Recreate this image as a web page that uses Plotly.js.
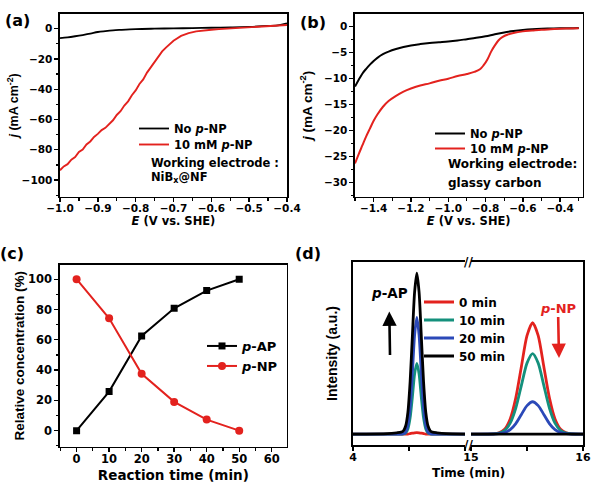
<!DOCTYPE html>
<html>
<head>
<meta charset="utf-8">
<script src="https://cdn.plot.ly/plotly-3.0.1.min.js"></script>
<style>html,body{margin:0;padding:0;background:#fff;}#chart{width:592px;height:483px;}</style>
</head>
<body>
<div id="chart"></div>
<script>
// ---------- Panel (a): LSV on NiBx@NF ----------
const aE_noNP = [-1.00,-0.98,-0.96,-0.94,-0.92,-0.90,-0.88,-0.86,-0.84,-0.80,-0.75,-0.70,-0.65,-0.60,-0.55,-0.50,-0.45,-0.42,-0.40];
const aJ_noNP = [-6.2,-5.7,-5.0,-4.2,-3.3,-2.2,-1.6,-1.1,-0.8,-0.3,0.0,0.2,0.4,0.6,0.8,1.2,1.8,2.4,3.5];
const aE_NP = [-1.00,-0.99,-0.98,-0.97,-0.96,-0.95,-0.94,-0.93,-0.92,-0.91,-0.90,-0.89,-0.88,-0.87,-0.86,-0.85,-0.84,-0.83,-0.82,-0.81,-0.80,-0.79,-0.78,-0.77,-0.76,-0.75,-0.74,-0.73,-0.72,-0.71,-0.70,-0.68,-0.66,-0.64,-0.62,-0.60,-0.58,-0.56,-0.54,-0.52,-0.50,-0.48,-0.46,-0.44,-0.42,-0.40];
const aJ_NP = [-93.5,-91.0,-89.5,-86.5,-84.8,-81.5,-79.8,-76.5,-74.5,-71.5,-69.5,-67.0,-65.5,-62.8,-60.5,-57.0,-54.5,-50.8,-48.0,-44.0,-40.8,-36.5,-33.5,-29.0,-25.5,-21.5,-18.5,-15.0,-12.5,-10.0,-8.0,-4.8,-2.9,-1.8,-1.1,-0.7,-0.3,0.0,0.3,0.5,0.7,1.0,1.3,1.6,2.0,2.4];

// ---------- Panel (b): LSV on glassy carbon ----------
const bE_noNP = [-1.50,-1.48,-1.46,-1.44,-1.42,-1.40,-1.38,-1.35,-1.32,-1.28,-1.24,-1.20,-1.15,-1.10,-1.05,-1.00,-0.95,-0.90,-0.85,-0.80,-0.75,-0.70,-0.65,-0.60,-0.55,-0.50,-0.45,-0.40,-0.35,-0.30];
const bJ_noNP = [-11.5,-10.2,-9.0,-8.1,-7.3,-6.6,-6.0,-5.3,-4.8,-4.3,-3.9,-3.6,-3.35,-3.15,-3.0,-2.85,-2.65,-2.4,-2.15,-1.85,-1.45,-1.1,-0.85,-0.65,-0.5,-0.4,-0.35,-0.3,-0.3,-0.25];
const bE_NP = [-1.50,-1.48,-1.46,-1.44,-1.42,-1.40,-1.38,-1.35,-1.32,-1.28,-1.24,-1.20,-1.15,-1.10,-1.05,-1.00,-0.95,-0.90,-0.86,-0.83,-0.81,-0.79,-0.77,-0.75,-0.73,-0.71,-0.68,-0.65,-0.60,-0.55,-0.50,-0.45,-0.40,-0.35,-0.30];
const bJ_NP = [-26.3,-24.5,-22.8,-21.1,-19.6,-18.1,-16.9,-15.4,-14.3,-13.3,-12.5,-11.9,-11.3,-10.9,-10.4,-10.0,-9.5,-9.1,-8.7,-8.2,-7.4,-6.3,-4.8,-3.6,-2.6,-2.0,-1.5,-1.2,-0.9,-0.75,-0.6,-0.5,-0.4,-0.35,-0.3];

// ---------- Panel (c): relative concentration ----------
const cTime = [0,10,20,30,40,50];
const cAP = [0,25.8,62.5,80.8,92.5,100];
const cNP = [100,74.2,37.5,19.0,7.3,0];

// ---------- Panel (d): chromatograms ----------
const dLabels = ['0 min','10 min','20 min','50 min'];
const dAP_t = [4.00,4.31,4.39,4.43,4.45,4.47,4.49,4.51,4.53,4.55,4.57,4.59,4.61,4.63,4.65,4.67,4.69,4.71,4.75,4.83,5.00];
const dAP_0  = [0,0,0,0,0,0,0,0.3,0.6,0.8,0.9,0.8,0.6,0.3,0,0,0,0,0,0,0];
const dAP_10 = [0,0,0,0,0.1,0.7,3.2,10.1,22.9,37.4,44,37.4,22.9,10.1,3.2,0.7,0.1,0,0,0,0];
const dAP_20 = [0,0,0,0,0.2,1.2,5.3,16.7,37.8,61.6,72.6,61.6,37.8,16.7,5.3,1.2,0.2,0,0,0,0];
const dAP_50 = [0,0.3,0.8,1.2,2.0,5.0,13.5,32.5,60.7,88.2,100,88.2,60.7,32.5,13.5,5.0,2.0,1.2,0.8,0.3,0];
const dNP_t = [15.00,15.20,15.25,15.30,15.35,15.40,15.45,15.50,15.55,15.60,15.65,15.70,15.75,15.80,15.85,15.90,16.00];
const dNP_0  = [0,0.15,0.77,3.0,9.4,22.5,42.0,61.2,69.3,61.2,42.0,22.5,9.4,3.0,0.77,0.15,0];
const dNP_10 = [0,0.11,0.56,2.2,6.8,16.2,30.3,44.1,50,44.1,30.3,16.2,6.8,2.2,0.56,0.11,0];
const dNP_20 = [0,0.04,0.22,0.88,2.7,6.5,12.2,17.7,20.1,17.7,12.2,6.5,2.7,0.88,0.22,0.04,0];
const dNP_50 = [0,0,0,0,0,0,0,0,0,0,0,0,0,0,0,0,0];

// ---------- styling ----------
const RED = '#e3221e', BLACK = '#000000', TEAL = '#14907c', BLUE = '#2b49b8';
const HF = 'DejaVu Sans, Arial, sans-serif';
const VF = 'Liberation Sans, Arial, sans-serif';
const px = v => v/592, py = v => 1 - v/483;

const traces = [
  {x:aE_noNP, y:aJ_noNP, xaxis:'x', yaxis:'y', mode:'lines', name:'No <i>p</i>-NP', line:{color:BLACK,width:1.8,shape:'spline'}, legend:'legend'},
  {x:aE_NP, y:aJ_NP, xaxis:'x', yaxis:'y', mode:'lines', name:'10 mM <i>p</i>-NP', line:{color:RED,width:1.9}, legend:'legend5'},
  {x:bE_noNP, y:bJ_noNP, xaxis:'x2', yaxis:'y2', mode:'lines', name:'No <i>p</i>-NP', line:{color:BLACK,width:2,shape:'spline'}, legend:'legend2'},
  {x:bE_NP, y:bJ_NP, xaxis:'x2', yaxis:'y2', mode:'lines', name:'10 mM <i>p</i>-NP', line:{color:RED,width:2,shape:'spline'}, legend:'legend6'},
  {x:cTime, y:cAP, xaxis:'x3', yaxis:'y3', mode:'lines+markers', name:'<i>p</i>-AP', line:{color:BLACK,width:2}, marker:{symbol:'square',size:7,color:BLACK}, legend:'legend3'},
  {x:cTime, y:cNP, xaxis:'x3', yaxis:'y3', mode:'lines+markers', name:'<i>p</i>-NP', line:{color:RED,width:2}, marker:{symbol:'circle',size:8,color:RED}, legend:'legend7'}
];
const dColors = [RED, TEAL, BLUE, BLACK];
const dAP = [dAP_0, dAP_10, dAP_20, dAP_50];
const dNP = [dNP_0, dNP_10, dNP_20, dNP_50];
const dLeg = ['legend4','legend8','legend9','legend10'];
for (let i = 0; i < 4; i++) {
  traces.push({x:dAP_t, y:dAP[i], xaxis:'x4', yaxis:'y4', mode:'lines', name:dLabels[i], legendgroup:'g'+i,
    line:{color:dColors[i], width:2.8, shape:'spline', smoothing:0.7}, legend:dLeg[i]});
}
for (let i = 0; i < 4; i++) {
  traces.push({x:dNP_t, y:dNP[i], xaxis:'x5', yaxis:'y5', mode:'lines', name:dLabels[i], legendgroup:'g'+i, showlegend:false,
    line:{color:dColors[i], width:2.8, shape:'spline', smoothing:0.7}, legend:dLeg[i]});
}

const axBase = {showline:true, linecolor:'#000', linewidth:1.6, mirror:true, ticks:'outside', ticklen:4, tickwidth:1.4, tickcolor:'#000',
  showgrid:false, zeroline:false, automargin:false, fixedrange:true};
function fnt(size, fam){ return {family:fam||HF, size:size, color:'#000', weight:'bold'}; }
function minorT(d, t0){ const m = {dtick:d, ticks:'outside', ticklen:2.5, tickwidth:1.2, tickcolor:'#000', showgrid:false}; if (t0 !== undefined) m.tick0 = t0; return m; }

const legBase = {bgcolor:'rgba(0,0,0,0)', borderwidth:0, xanchor:'left', yanchor:'top', tracegroupgap:0, itemclick:false};
function leg(x, yTop, size){ return Object.assign({}, legBase, {x:px(x), y:py(yTop), font:fnt(size)}); }
function ann(x, y, text, size, extra){ return Object.assign({xref:'paper', yref:'paper', x:px(x), y:py(y), text:text, showarrow:false,
  xanchor:'center', yanchor:'middle', font:fnt(size)}, extra||{}); }

const layout = {
  width:592, height:483, margin:{l:0,r:0,t:0,b:0}, paper_bgcolor:'#fff', plot_bgcolor:'#fff',
  font:{family:HF, size:11, color:'#000', weight:'bold'},
  showlegend:true,
  xaxis: Object.assign({}, axBase, {domain:[px(60),px(287)], range:[-1.0,-0.4], dtick:0.1, tickformat:'.1f',
    minor:minorT(0.05), tickfont:fnt(10.5), ticklabelstandoff:-3,
    title:{text:'<i>E</i> (V vs. SHE)', font:fnt(11.5), standoff:0}, anchor:'y'}),
  yaxis: Object.assign({}, axBase, {domain:[py(196.7),py(14)], range:[-111,9.7], dtick:20,
    minor:minorT(10), tickfont:fnt(10.5),
    title:{text:'<i>j</i> (mA cm<sup>-2</sup>)', font:fnt(12.5, VF), standoff:0}, anchor:'x'}),
  xaxis2: Object.assign({}, axBase, {domain:[px(355),px(582.5)], range:[-1.5,-0.28], tickvals:[-1.4,-1.2,-1.0,-0.8,-0.6,-0.4], tickformat:'.1f',
    minor:minorT(0.1,-1.5), tickfont:fnt(10.5), ticklabelstandoff:-3,
    title:{text:'<i>E</i> (V vs. SHE)', font:fnt(11.5), standoff:0}, anchor:'y2'}),
  yaxis2: Object.assign({}, axBase, {domain:[py(196.7),py(14)], range:[-32.7,2.44], dtick:5,
    minor:minorT(2.5), tickfont:fnt(10.5),
    title:{text:'<i>j</i> (mA cm<sup>-2</sup>)', font:fnt(13.5, VF), standoff:8}, anchor:'x2'}),
  xaxis3: Object.assign({}, axBase, {domain:[px(60),px(286.7)], range:[-5.1,64.6], dtick:10,
    minor:minorT(5), tickfont:fnt(11.5), ticklabelstandoff:-3,
    title:{text:'Reaction time (min)', font:fnt(13.5), standoff:5}, anchor:'y3'}),
  yaxis3: Object.assign({}, axBase, {domain:[py(446.7),py(265)], range:[-10.6,109.4], dtick:20,
    minor:minorT(10), tickfont:fnt(11.5),
    title:{text:'Relative concentration (%)', font:fnt(13.5, VF), standoff:0}, anchor:'x3'}),
  xaxis4: Object.assign({}, axBase, {domain:[px(353),px(465)], range:[4,5], tickvals:[4],
    minor:{dtick:0.5, tick0:4, ticks:'outside', ticklen:4, tickwidth:1.4, tickcolor:'#000', showgrid:false},
    tickfont:fnt(11), ticklabelstandoff:-3, anchor:'y4'}),
  yaxis4: Object.assign({}, axBase, {domain:[py(445),py(262)], range:[-6.8,107], ticks:'', showticklabels:false, mirror:false,
    title:{text:'Intensity (a.u.)', font:fnt(14, VF), standoff:10}, anchor:'x4'}),
  xaxis5: Object.assign({}, axBase, {domain:[px(471),px(583)], range:[15,16], tickvals:[15,16],
    minor:{dtick:0.5, tick0:15, ticks:'outside', ticklen:4, tickwidth:1.4, tickcolor:'#000', showgrid:false},
    tickfont:fnt(11), ticklabelstandoff:-3, anchor:'y5'}),
  yaxis5: Object.assign({}, axBase, {domain:[py(445),py(262)], range:[-6.8,107], ticks:'', showticklabels:false, mirror:false,
    side:'right', matches:'y4', anchor:'x5'}),
  legend:   leg(134, 114, 11.5),
  legend5:  leg(134, 130, 11.5),
  legend2:  leg(430, 119, 11.5),
  legend6:  leg(430, 134, 11.5),
  legend3:  leg(202, 331, 13),
  legend7:  leg(202, 351, 13),
  legend4:  leg(419, 287.5, 12),
  legend8:  leg(419, 305.5, 12),
  legend9:  leg(419, 323.5, 12),
  legend10: leg(419, 341.5, 12),
  annotations: [
    ann(17, 21, '(a)', 16),
    ann(313, 22, '(b)', 16),
    ann(12, 253, '(c)', 16),
    ann(308, 253, '(d)', 16),
    ann(149, 163, 'Working electrode :', 11.5, {xanchor:'left'}),
    ann(149, 177, 'NiB<sub>x</sub>@NF', 11.5, {xanchor:'left'}),
    ann(446, 164, 'Working electrode:', 12, {xanchor:'left'}),
    ann(446, 183, 'glassy carbon', 12, {xanchor:'left'}),
    // p-AP label with upward arrow below it: (x,y) is the arrow tail, the label sits 62 px above
    ann(390, 355, '<i>p</i>-AP', 13.5, {showarrow:true, ax:-1, ay:-62, axref:'pixel', ayref:'pixel', arrowside:'start',
       startarrowhead:2, startarrowsize:1.1, arrowwidth:2.6, arrowcolor:BLACK, startstandoff:9}),
    // p-NP label with downward arrow: (x,y) is the arrow head, label 50 px above
    ann(559, 358, '<i>p</i>-NP', 13, {font:Object.assign(fnt(13),{color:RED}), showarrow:true, ax:-1, ay:-50, axref:'pixel', ayref:'pixel',
       arrowside:'end', arrowhead:2, arrowsize:1.1, arrowwidth:2.6, arrowcolor:RED, standoff:0}),
    ann(468, 262, '//', 12),
    ann(468, 445, '//', 12),
    ann(468, 473, 'Time (min)', 12)
  ]
};

Plotly.newPlot('chart', traces, layout, {staticPlot:true, displayModeBar:false});
</script>
</body>
</html>
